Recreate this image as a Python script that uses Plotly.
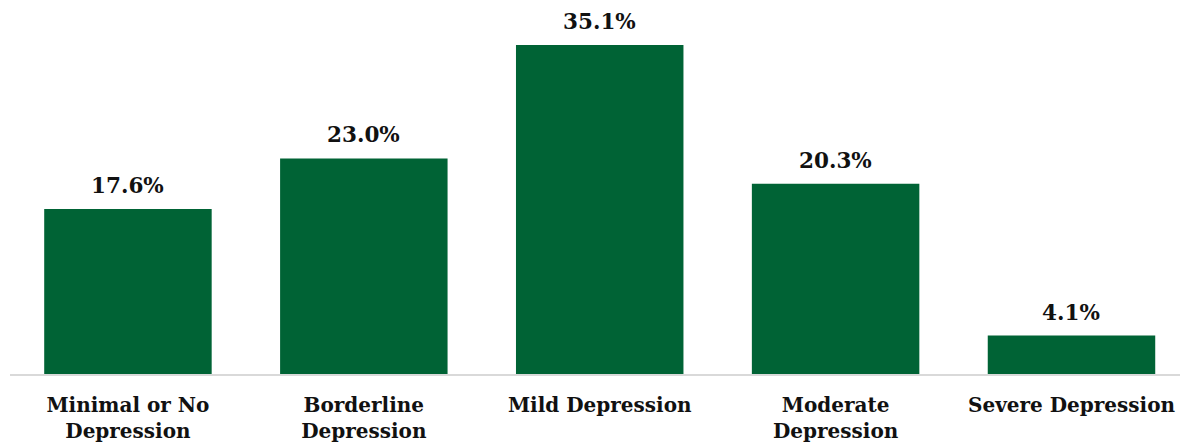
import plotly.graph_objects as go

categories = ["Minimal or No<br>Depression", "Borderline<br>Depression", "Mild Depression",
              "Moderate<br>Depression", "Severe Depression"]
shares = [17.6, 23.0, 35.1, 20.3, 4.1]
labels = [f"{v:.1f}%" for v in shares]

BAR_COLOR = "#006335"
FONT = "DejaVu Serif"

fig = go.Figure(
    go.Bar(
        x=list(range(len(categories))),
        y=shares,
        marker=dict(color=BAR_COLOR, line=dict(width=0)),
        width=0.71,
        hoverinfo="skip",
    )
)

for i, (v, t) in enumerate(zip(shares, labels)):
    fig.add_annotation(
        x=i, y=v, text=f"<b>{t}</b>", showarrow=False,
        yanchor="bottom", yshift=9,
        font=dict(family=FONT, size=21.5, color="#111111"),
    )

fig.update_layout(
    width=1180, height=446,
    margin=dict(l=10, r=0, t=0, b=72),
    paper_bgcolor="white", plot_bgcolor="white",
    showlegend=False,
    xaxis=dict(
        range=[-0.5, 4.46],
        tickmode="array",
        tickvals=list(range(len(categories))),
        ticktext=[f"<b>{c}</b>" for c in categories],
        tickfont=dict(family=FONT, size=20, color="#111111"),
        ticklabelstandoff=12,
        showline=True, linecolor="#d9d9d9", linewidth=2,
        showgrid=False, zeroline=False, ticks="",
    ),
    yaxis=dict(range=[0, 39.9], visible=False, showgrid=False, zeroline=False),
)

fig.write_html("out.html")
